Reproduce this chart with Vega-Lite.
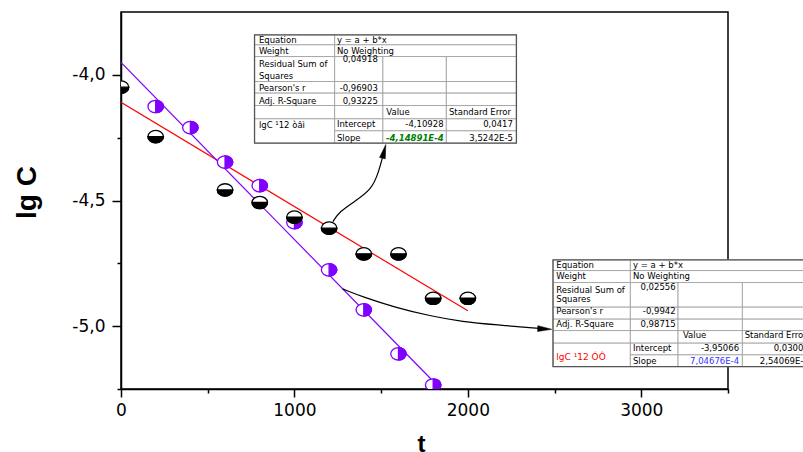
{
  "$schema": "https://vega.github.io/schema/vega-lite/v6.json",
  "width": 607,
  "height": 377,
  "autosize": {"type": "none"},
  "padding": {"left": 121, "top": 12, "right": 75, "bottom": 63},
  "background": "white",
  "config": {
    "view": {"stroke": "black", "strokeWidth": 1.5},
    "font": "DejaVu Sans",
    "axis": {"domainColor": "black", "domainWidth": 1.5, "tickColor": "black", "tickWidth": 1.5, "labelColor": "black", "titleColor": "black", "grid": false, "labelFont": "DejaVu Sans", "labelFontSize": 17, "labelFlush": false, "labelOverlap": false}
  },
  "datasets": {
    "black": [
      {"t": 0, "lgC": -4.049}, {"t": 200, "lgC": -4.246}, {"t": 600, "lgC": -4.458}, {"t": 800, "lgC": -4.508},
      {"t": 1000, "lgC": -4.566}, {"t": 1200, "lgC": -4.610}, {"t": 1400, "lgC": -4.712}, {"t": 1600, "lgC": -4.712},
      {"t": 1800, "lgC": -4.889}, {"t": 2000, "lgC": -4.889}
    ],
    "purple": [
      {"t": 200, "lgC": -4.126}, {"t": 400, "lgC": -4.210}, {"t": 600, "lgC": -4.347}, {"t": 800, "lgC": -4.441},
      {"t": 1000, "lgC": -4.588}, {"t": 1200, "lgC": -4.776}, {"t": 1400, "lgC": -4.935}, {"t": 1600, "lgC": -5.110},
      {"t": 1800, "lgC": -5.234}
    ],
    "fits": [
      {"fit": "red", "t": 0, "lgC": -4.10928}, {"fit": "red", "t": 2000, "lgC": -4.93906},
      {"fit": "purple", "t": 0, "lgC": -3.95066}, {"fit": "purple", "t": 1800, "lgC": -5.21908}
    ],
    "arrows": [
      {"arrow": 1, "t": 1222, "lgC": -4.5838}, {"arrow": 1, "t": 1260, "lgC": -4.544}, {"arrow": 1, "t": 1347, "lgC": -4.504},
      {"arrow": 1, "t": 1443, "lgC": -4.4576}, {"arrow": 1, "t": 1485, "lgC": -4.39}, {"arrow": 1, "t": 1517, "lgC": -4.3044},
      {"arrow": 2, "t": 1278, "lgC": -4.8516}, {"arrow": 2, "t": 1393, "lgC": -4.8834}, {"arrow": 2, "t": 1589, "lgC": -4.9272},
      {"arrow": 2, "t": 1780, "lgC": -4.959}, {"arrow": 2, "t": 1970, "lgC": -4.9829}, {"arrow": 2, "t": 2165, "lgC": -4.9948},
      {"arrow": 2, "t": 2414, "lgC": -5.0088}
    ],
    "heads": [
      {"arrow": 1, "t": 1517, "lgC": -4.3044},
      {"arrow": 2, "t": 2443, "lgC": -5.011}
    ],
    "cells": [
      {"t": 770, "t2": 1232, "lgC": -3.8408, "lgC2": -3.8806}, {"t": 1232, "t2": 2280, "lgC": -3.8408, "lgC2": -3.8806},
      {"t": 770, "t2": 1232, "lgC": -3.8806, "lgC2": -3.9272}, {"t": 1232, "t2": 2280, "lgC": -3.8806, "lgC2": -3.9272},
      {"t": 770, "t2": 1232, "lgC": -3.9272, "lgC2": -4.0267}, {"t": 1232, "t2": 1510, "lgC": -3.9272, "lgC2": -4.0267}, {"t": 1510, "t2": 1876, "lgC": -3.9272, "lgC2": -4.0267}, {"t": 1876, "t2": 2280, "lgC": -3.9272, "lgC2": -4.0267},
      {"t": 770, "t2": 1232, "lgC": -4.0267, "lgC2": -4.0728}, {"t": 1232, "t2": 1510, "lgC": -4.0267, "lgC2": -4.0728}, {"t": 1510, "t2": 1876, "lgC": -4.0267, "lgC2": -4.0728}, {"t": 1876, "t2": 2280, "lgC": -4.0267, "lgC2": -4.0728},
      {"t": 770, "t2": 1232, "lgC": -4.0728, "lgC2": -4.1222}, {"t": 1232, "t2": 1510, "lgC": -4.0728, "lgC2": -4.1222}, {"t": 1510, "t2": 1876, "lgC": -4.0728, "lgC2": -4.1222}, {"t": 1876, "t2": 2280, "lgC": -4.0728, "lgC2": -4.1222},
      {"t": 770, "t2": 1232, "lgC": -4.1222, "lgC2": -4.1751}, {"t": 1232, "t2": 1510, "lgC": -4.1222, "lgC2": -4.1751}, {"t": 1510, "t2": 1876, "lgC": -4.1222, "lgC2": -4.1751}, {"t": 1876, "t2": 2280, "lgC": -4.1222, "lgC2": -4.1751},
      {"t": 770, "t2": 1232, "lgC": -4.1751, "lgC2": -4.2718}, {"t": 1232, "t2": 1510, "lgC": -4.1751, "lgC2": -4.2228}, {"t": 1510, "t2": 1876, "lgC": -4.1751, "lgC2": -4.2228}, {"t": 1876, "t2": 2280, "lgC": -4.1751, "lgC2": -4.2228},
      {"t": 1232, "t2": 1510, "lgC": -4.2228, "lgC2": -4.2718}, {"t": 1510, "t2": 1876, "lgC": -4.2228, "lgC2": -4.2718}, {"t": 1876, "t2": 2280, "lgC": -4.2228, "lgC2": -4.2718},
      {"t": 2491, "t2": 2937, "lgC": -4.7362, "lgC2": -4.7788}, {"t": 2937, "t2": 3983, "lgC": -4.7362, "lgC2": -4.7788},
      {"t": 2491, "t2": 2937, "lgC": -4.7788, "lgC2": -4.8265}, {"t": 2937, "t2": 3983, "lgC": -4.7788, "lgC2": -4.8265},
      {"t": 2491, "t2": 2937, "lgC": -4.8265, "lgC2": -4.9244}, {"t": 2937, "t2": 3212, "lgC": -4.8265, "lgC2": -4.9244}, {"t": 3212, "t2": 3583, "lgC": -4.8265, "lgC2": -4.9244}, {"t": 3583, "t2": 3983, "lgC": -4.8265, "lgC2": -4.9244},
      {"t": 2491, "t2": 2937, "lgC": -4.9244, "lgC2": -4.9721}, {"t": 2937, "t2": 3212, "lgC": -4.9244, "lgC2": -4.9721}, {"t": 3212, "t2": 3583, "lgC": -4.9244, "lgC2": -4.9721}, {"t": 3583, "t2": 3983, "lgC": -4.9244, "lgC2": -4.9721},
      {"t": 2491, "t2": 2937, "lgC": -4.9721, "lgC2": -5.0175}, {"t": 2937, "t2": 3212, "lgC": -4.9721, "lgC2": -5.0175}, {"t": 3212, "t2": 3583, "lgC": -4.9721, "lgC2": -5.0175}, {"t": 3583, "t2": 3983, "lgC": -4.9721, "lgC2": -5.0175},
      {"t": 2491, "t2": 2937, "lgC": -5.0175, "lgC2": -5.0676}, {"t": 2937, "t2": 3212, "lgC": -5.0175, "lgC2": -5.0676}, {"t": 3212, "t2": 3583, "lgC": -5.0175, "lgC2": -5.0676}, {"t": 3583, "t2": 3983, "lgC": -5.0175, "lgC2": -5.0676},
      {"t": 2491, "t2": 2937, "lgC": -5.0676, "lgC2": -5.1607}, {"t": 2937, "t2": 3212, "lgC": -5.0676, "lgC2": -5.1142}, {"t": 3212, "t2": 3583, "lgC": -5.0676, "lgC2": -5.1142}, {"t": 3583, "t2": 3983, "lgC": -5.0676, "lgC2": -5.1142},
      {"t": 2937, "t2": 3212, "lgC": -5.1142, "lgC2": -5.1607}, {"t": 3212, "t2": 3583, "lgC": -5.1142, "lgC2": -5.1607}, {"t": 3583, "t2": 3983, "lgC": -5.1142, "lgC2": -5.1607}
    ],
    "frames": [
      {"t": 770, "t2": 2280, "lgC": -3.8408, "lgC2": -4.2718},
      {"t": 2491, "t2": 3983, "lgC": -4.7362, "lgC2": -5.1607}
    ],
    "texts": [
      {"kind": "lab", "t": 795, "lgC": -3.8607, "text": "Equation"},
      {"kind": "lab", "t": 1245, "lgC": -3.8607, "text": "y = a + b*x"},
      {"kind": "lab", "t": 795, "lgC": -3.9045, "text": "Weight"},
      {"kind": "lab", "t": 1245, "lgC": -3.9045, "text": "No Weighting"},
      {"kind": "lab", "t": 795, "lgC": -3.955, "text": "Residual Sum of"},
      {"kind": "lab", "t": 795, "lgC": -4.0028, "text": "Squares"},
      {"kind": "lab", "t": 795, "lgC": -4.0529, "text": "Pearson's r"},
      {"kind": "lab", "t": 795, "lgC": -4.1035, "text": "Adj. R-Square"},
      {"kind": "lab", "t": 1530, "lgC": -4.1484, "text": "Value"},
      {"kind": "lab", "t": 1891, "lgC": -4.1484, "text": "Standard Error"},
      {"kind": "lab", "t": 795, "lgC": -4.199, "text": "lgC ¹12 òâì"},
      {"kind": "lab", "t": 1245, "lgC": -4.195, "text": "Intercept"},
      {"kind": "lab", "t": 1245, "lgC": -4.2495, "text": "Slope"},
      {"kind": "val", "t": 1481, "lgC": -3.9363, "text": "0,04918"},
      {"kind": "val", "t": 1481, "lgC": -4.0529, "text": "-0,96903"},
      {"kind": "val", "t": 1481, "lgC": -4.1035, "text": "0,93225"},
      {"kind": "val", "t": 1860, "lgC": -4.195, "text": "-4,10928"},
      {"kind": "val", "t": 2260, "lgC": -4.195, "text": "0,0417"},
      {"kind": "val", "t": 2260, "lgC": -4.2495, "text": "3,5242E-5"},
      {"kind": "slope1", "t": 1860, "lgC": -4.2495, "text": "-4,14891E-4"},
      {"kind": "lab", "t": 2510, "lgC": -4.7561, "text": "Equation"},
      {"kind": "lab", "t": 2952, "lgC": -4.7561, "text": "y = a + b*x"},
      {"kind": "lab", "t": 2510, "lgC": -4.7987, "text": "Weight"},
      {"kind": "lab", "t": 2952, "lgC": -4.7987, "text": "No Weighting"},
      {"kind": "lab", "t": 2510, "lgC": -4.8563, "text": "Residual Sum of"},
      {"kind": "lab", "t": 2510, "lgC": -4.8916, "text": "Squares"},
      {"kind": "lab", "t": 2510, "lgC": -4.9379, "text": "Pearson's r"},
      {"kind": "lab", "t": 2510, "lgC": -4.9908, "text": "Adj. R-Square"},
      {"kind": "lab", "t": 3240, "lgC": -5.0346, "text": "Value"},
      {"kind": "lab", "t": 3596, "lgC": -5.0346, "text": "Standard Error"},
      {"kind": "lab", "t": 2952, "lgC": -5.0875, "text": "Intercept"},
      {"kind": "lab", "t": 2952, "lgC": -5.1381, "text": "Slope"},
      {"kind": "val", "t": 3198, "lgC": -4.8424, "text": "0,02556"},
      {"kind": "val", "t": 3198, "lgC": -4.9379, "text": "-0,9942"},
      {"kind": "val", "t": 3198, "lgC": -4.9908, "text": "0,98715"},
      {"kind": "val", "t": 3564, "lgC": -5.0875, "text": "-3,95066"},
      {"kind": "val", "t": 3966, "lgC": -5.0875, "text": "0,03003"},
      {"kind": "val", "t": 3966, "lgC": -5.1381, "text": "2,54069E-5"},
      {"kind": "slope2", "t": 3564, "lgC": -5.1381, "text": "7,04676E-4"},
      {"kind": "name2", "t": 2510, "lgC": -5.1234, "text": "lgC ¹12 ÓÔ"}
    ]
  },
  "encoding": {
    "x": {
      "field": "t", "type": "quantitative",
      "scale": {"domain": [0, 3500], "nice": false, "zero": false},
      "axis": {
        "values": [0, 500, 1000, 1500, 2000, 2500, 3000, 3500],
        "format": "d",
        "labelExpr": "datum.value % 1000 === 0 ? datum.label : ''",
        "tickSize": {"condition": {"test": "datum.value % 1000 === 0", "value": 8}, "value": 4},
        "labelPadding": 5,
        "title": "t", "titleFont": "Liberation Sans", "titleFontSize": 24, "titleFontWeight": "bold",
        "titleX": 300, "titleY": 62, "titleBaseline": "alphabetic", "titleAlign": "center"
      }
    },
    "y": {
      "field": "lgC", "type": "quantitative",
      "scale": {"domain": [-5.25, -3.75], "nice": false, "zero": false},
      "axis": {
        "values": [-5.25, -5, -4.75, -4.5, -4.25, -4],
        "labelExpr": "abs(datum.value * 2 - round(datum.value * 2)) < 0.001 ? replace(replace(format(datum.value, '.1f'), '.', ','), '\u2212', '-') : ''",
        "tickSize": {"condition": {"test": "abs(datum.value * 2 - round(datum.value * 2)) < 0.001", "value": 9}, "value": 4},
        "labelPadding": 7,
        "title": "lg C", "titleFont": "Liberation Sans", "titleFontSize": 28, "titleFontWeight": "bold",
        "titleAngle": -90, "titleX": -94, "titleY": 180, "titleAlign": "center", "titleBaseline": "middle"
      }
    }
  },
  "layer": [
    {
      "data": {"name": "fits"},
      "transform": [{"filter": "datum.fit === 'red'"}],
      "mark": {"type": "line", "color": "#ff0000", "strokeWidth": 1.2, "clip": true}
    },
    {
      "data": {"name": "fits"},
      "transform": [{"filter": "datum.fit === 'purple'"}],
      "mark": {"type": "line", "color": "#8000ff", "strokeWidth": 1.2, "clip": true}
    },
    {
      "data": {"name": "arrows"},
      "mark": {"type": "line", "color": "black", "strokeWidth": 1.2, "interpolate": "basis"},
      "encoding": {"detail": {"field": "arrow", "type": "nominal"}}
    },
    {
      "data": {"name": "heads"},
      "transform": [{"filter": "datum.arrow === 1"}],
      "mark": {"type": "point", "shape": "M 1 0 L -1 -0.42 L -1 0.42 Z", "filled": true, "fill": "black", "stroke": "black", "strokeWidth": 0.5, "size": 196, "angle": -76, "opacity": 1}
    },
    {
      "data": {"name": "heads"},
      "transform": [{"filter": "datum.arrow === 2"}],
      "mark": {"type": "point", "shape": "M 1 0 L -1 -0.42 L -1 0.42 Z", "filled": true, "fill": "black", "stroke": "black", "strokeWidth": 0.5, "size": 196, "angle": 3, "opacity": 1}
    },
    {
      "data": {"name": "purple"},
      "mark": {"type": "point", "shape": "M -1 0 A 1 0.8 0 1 0 1 0 A 1 0.8 0 1 0 -1 0 Z", "filled": true, "fill": "white", "stroke": "#8000ff", "strokeWidth": 1.3, "size": 240, "opacity": 1, "clip": true}
    },
    {
      "data": {"name": "purple"},
      "mark": {"type": "point", "shape": "M 0 -0.8 A 1 0.8 0 0 1 0 0.8 Z", "filled": true, "fill": "#8000ff", "stroke": "#8000ff", "strokeWidth": 1.3, "size": 240, "opacity": 1, "clip": true}
    },
    {
      "data": {"name": "black"},
      "mark": {"type": "point", "shape": "M -1 0 A 1 0.8 0 1 0 1 0 A 1 0.8 0 1 0 -1 0 Z", "filled": true, "fill": "white", "stroke": "black", "strokeWidth": 1.3, "size": 240, "opacity": 1, "clip": true}
    },
    {
      "data": {"name": "black"},
      "mark": {"type": "point", "shape": "M -1 0 A 1 0.8 0 0 0 1 0 Z", "filled": true, "fill": "black", "stroke": "black", "strokeWidth": 1.3, "size": 240, "opacity": 1, "clip": true}
    },
    {
      "data": {"name": "cells"},
      "mark": {"type": "rect", "fill": "white", "stroke": "#9a9a9a", "strokeWidth": 0.8},
      "encoding": {"x2": {"field": "t2"}, "y2": {"field": "lgC2"}}
    },
    {
      "data": {"name": "frames"},
      "mark": {"type": "rect", "fill": null, "fillOpacity": 0, "stroke": "#555555", "strokeWidth": 1.3},
      "encoding": {"x2": {"field": "t2"}, "y2": {"field": "lgC2"}}
    },
    {
      "data": {"name": "texts"},
      "transform": [{"filter": "datum.kind === 'lab'"}],
      "mark": {"type": "text", "align": "left", "baseline": "middle", "font": "DejaVu Sans", "fontSize": 8.5, "color": "black"},
      "encoding": {"text": {"field": "text"}}
    },
    {
      "data": {"name": "texts"},
      "transform": [{"filter": "datum.kind === 'val'"}],
      "mark": {"type": "text", "align": "right", "baseline": "middle", "font": "DejaVu Sans", "fontSize": 8.5, "color": "black"},
      "encoding": {"text": {"field": "text"}}
    },
    {
      "data": {"name": "texts"},
      "transform": [{"filter": "datum.kind === 'slope1'"}],
      "mark": {"type": "text", "align": "right", "baseline": "middle", "font": "DejaVu Sans", "fontSize": 8.5, "fontWeight": "bold", "fontStyle": "italic", "color": "#008000"},
      "encoding": {"text": {"field": "text"}}
    },
    {
      "data": {"name": "texts"},
      "transform": [{"filter": "datum.kind === 'slope2'"}],
      "mark": {"type": "text", "align": "right", "baseline": "middle", "font": "DejaVu Sans", "fontSize": 8.5, "color": "#3333ff"},
      "encoding": {"text": {"field": "text"}}
    },
    {
      "data": {"name": "texts"},
      "transform": [{"filter": "datum.kind === 'name2'"}],
      "mark": {"type": "text", "align": "left", "baseline": "middle", "font": "DejaVu Sans", "fontSize": 9, "color": "#ff0000"},
      "encoding": {"text": {"field": "text"}}
    }
  ]
}
